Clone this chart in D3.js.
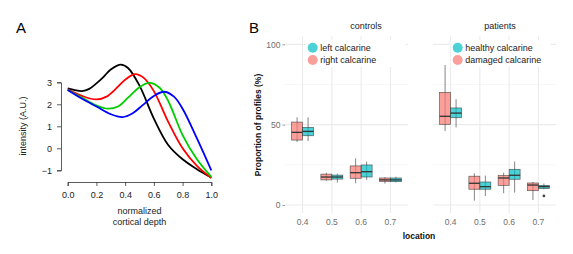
<!DOCTYPE html>
<html lang="en">
<head>
<meta charset="UTF-8">
<title>Cortical depth profiles</title>
<script src="https://d3js.org/d3.v7.min.js"></script>
<style>
  body { margin: 0; background: #fff; }
  text { font-family: "Liberation Sans", Arial, sans-serif; }
</style>
</head>
<body>
<svg id="fig" width="573" height="254"></svg>
<script>
// ---- panel A data: intensity profiles (x = normalized depth) ----
const depthTicks = [0, 0.2, 0.4, 0.6, 0.8, 1.0];
const intensityTicks = [-1, 0, 1, 2, 3];
const blackCurve = [[0,2.72],[0.05,2.64],[0.1,2.6],[0.15,2.7],[0.2,2.95],[0.25,3.25],[0.3,3.58],[0.37,3.8],[0.42,3.65],[0.5,2.85],[0.6,1.35],[0.7,0.15],[0.8,-0.5],[0.9,-0.95],[1.0,-1.33]];
const redCurve = [[0,2.68],[0.1,2.38],[0.2,2.22],[0.27,2.35],[0.35,2.8],[0.4,3.12],[0.47,3.37],[0.53,3.2],[0.6,2.6],[0.7,1.2],[0.8,0.0],[0.9,-0.8],[1.0,-1.35]];
const greenCurve = [[0,2.65],[0.1,2.3],[0.2,1.95],[0.28,1.8],[0.35,1.9],[0.42,2.3],[0.5,2.78],[0.57,2.97],[0.64,2.75],[0.7,2.15],[0.8,0.6],[0.9,-0.5],[1.0,-1.3]];
const blueCurve = [[0,2.65],[0.1,2.25],[0.2,1.9],[0.3,1.55],[0.38,1.42],[0.45,1.58],[0.52,1.95],[0.6,2.38],[0.67,2.57],[0.74,2.35],[0.8,1.8],[0.9,0.45],[1.0,-1.0]];
const curveColors = ["#000000", "#FF0000", "#00CD00", "#0000FF"];

// ---- panel B data: boxplot stats [lower whisker, q1, median, q3, upper whisker] ----
const locations = ["0.4", "0.5", "0.6", "0.7"];
const propTicks = [0, 50, 100];
const controlsRight = [[39.2,40.4,45.2,51.6,54.6],[15.1,15.6,17.4,19.2,20.1],[13.5,16.6,20.1,24.3,29],[13.3,14.7,15.6,16.8,17.4]];
const controlsLeft  = [[39.8,43.1,45.8,48.3,54.6],[13.9,16.1,17.4,18.6,19.5],[15.6,17.4,20.7,24.9,27],[14.1,14.5,15.6,16.8,17.6]];
const patientsDamaged = [[46,50.2,55.2,70.1,87.1],[2.7,9.8,13.5,17.9,19.7],[7.3,12.2,16.8,18.3,20.1],[3.1,8.9,12.4,13.7,14.3]];
const patientsHealthy = [[48.3,54.3,57.2,60.4,65.8],[5.6,9.8,11.4,14.3,18.3],[7.7,16,18.5,22.2,27],[9.8,10.2,11.4,12.2,13.3]];
const patientsHealthyOutliers = [[3, 5.6]]; // [location index, value]

const pink = "#F8766D", teal = "#00BFC4";

const svg = d3.select("#fig");

// ================= Panel A =================
const xA = d3.scaleLinear().domain([0, 1]).range([67.7, 211.3]);
const yA = d3.scaleLinear().domain([-1, 3]).range([170.3, 82.3]);

svg.append("text").attr("x", 16).attr("y", 33).style("font-size", "15px").text("A");

const axA = svg.append("g").attr("transform", "translate(0,182)")
    .call(d3.axisBottom(xA).tickValues(depthTicks).tickFormat(d3.format(".1f")).tickSizeOuter(0).tickSize(4).tickPadding(6));
const ayA = svg.append("g").attr("transform", "translate(61,0)")
    .call(d3.axisLeft(yA).tickValues(intensityTicks).tickFormat(d => d < 0 ? "\u2212" + Math.abs(d) : d).tickSizeOuter(0).tickSize(4).tickPadding(5));
[axA, ayA].forEach(g => {
  g.selectAll("path, line").attr("stroke", "#333").attr("stroke-width", 0.8);
  g.selectAll("text").attr("fill", "#222").style("font-size", "9px").style("font-family", "Liberation Sans, Arial, sans-serif");
});

svg.append("text").attr("transform", "rotate(-90)").attr("x", -126).attr("y", 26)
    .attr("text-anchor", "middle").style("font-size", "9px").attr("fill", "#222").text("intensity (A.U.)");
svg.append("text").attr("x", 139.5).attr("y", 214).attr("text-anchor", "middle")
    .style("font-size", "9px").attr("fill", "#222").text("normalized");
svg.append("text").attr("x", 139.5).attr("y", 225).attr("text-anchor", "middle")
    .style("font-size", "9px").attr("fill", "#222").text("cortical depth");

const lineA = d3.line().x(d => xA(d[0])).y(d => yA(d[1])).curve(d3.curveCatmullRom.alpha(0.5));
[blackCurve, redCurve, greenCurve, blueCurve].forEach((c, i) => {
  svg.append("path").datum(c).attr("d", lineA).attr("fill", "none")
      .attr("stroke", curveColors[i]).attr("stroke-width", 1.8);
});

// ================= Panel B =================
svg.append("text").attr("x", 249).attr("y", 33).style("font-size", "15px").text("B");

const yB = d3.scaleLinear().domain([-5, 105]).range([213, 36.3]);

const panels = [
  { title: "controls", titleX: 366, range: [285, 408], groups: [controlsRight, controlsLeft],
    legend: ["left calcarine", "right calcarine"], legendX: 312.7, axis: true, outliers: [] },
  { title: "patients", titleX: 500, range: [433, 556], groups: [patientsDamaged, patientsHealthy],
    legend: ["healthy calcarine", "damaged calcarine"], legendX: 457.7, axis: false, outliers: patientsHealthyOutliers }
];

panels.forEach(p => {
  const x = d3.scaleBand().domain(locations).range(p.range).paddingInner(0).paddingOuter(0.1);
  const step = x.step();
  const g = svg.append("g");

  // grid
  [25, 75].forEach(v => g.append("line").attr("x1", p.range[0]).attr("x2", p.range[1])
      .attr("y1", yB(v)).attr("y2", yB(v)).attr("stroke", "#F2F2F2").attr("stroke-width", 0.6));
  propTicks.forEach(v => g.append("line").attr("x1", p.range[0]).attr("x2", p.range[1])
      .attr("y1", yB(v)).attr("y2", yB(v)).attr("stroke", "#EBEBEB").attr("stroke-width", 1.1));
  locations.forEach(l => g.append("line").attr("x1", x(l) + step / 2).attr("x2", x(l) + step / 2)
      .attr("y1", yB(-5)).attr("y2", yB(105)).attr("stroke", "#EBEBEB").attr("stroke-width", 1.1));

  // x axis labels
  const ax = svg.append("g").attr("transform", "translate(0,213)")
      .call(d3.axisBottom(x).tickSize(0).tickPadding(6));
  ax.select(".domain").remove();
  ax.selectAll("text").attr("fill", "#6E6E6E").style("font-size", "8.5px").style("font-family", "Liberation Sans, Arial, sans-serif");

  if (p.axis) {
    const ay = svg.append("g").attr("transform", `translate(${p.range[0]},0)`)
        .call(d3.axisLeft(yB).tickValues(propTicks).tickSize(2.5).tickPadding(2));
    ay.select(".domain").remove();
    ay.selectAll("line").attr("stroke", "#999");
    ay.selectAll("text").attr("fill", "#6E6E6E").style("font-size", "8.5px").style("font-family", "Liberation Sans, Arial, sans-serif");
  }

  svg.append("text").attr("x", p.titleX).attr("y", 29).attr("text-anchor", "middle")
      .style("font-size", "9px").attr("fill", "#222").text(p.title);

  // boxes: group 0 pink (left dodge), group 1 teal (right dodge)
  const bw = step * 0.75 / 2;
  p.groups.forEach((grp, gi) => {
    const col = gi === 0 ? pink : teal;
    grp.forEach((s, li) => {
      const cx = x(locations[li]) + step / 2 + (gi === 0 ? -bw / 2 : bw / 2);
      g.append("line").attr("x1", cx).attr("x2", cx).attr("y1", yB(s[0])).attr("y2", yB(s[4]))
          .attr("stroke", "#333").attr("stroke-width", 0.6);
      g.append("rect").attr("x", cx - bw / 2).attr("width", bw)
          .attr("y", yB(s[3])).attr("height", yB(s[1]) - yB(s[3]))
          .attr("fill", col).attr("fill-opacity", 0.7)
          .attr("stroke", "#333").attr("stroke-opacity", 0.75).attr("stroke-width", 0.7);
      g.append("line").attr("x1", cx - bw / 2).attr("x2", cx + bw / 2)
          .attr("y1", yB(s[2])).attr("y2", yB(s[2])).attr("stroke", "#333").attr("stroke-width", 1.3);
    });
  });
  p.outliers.forEach(o => {
    const cx = x(locations[o[0]]) + step / 2 + bw / 2;
    g.append("circle").attr("cx", cx).attr("cy", yB(o[1])).attr("r", 1.4).attr("fill", "#444");
  });

  // legend (white key background covers grid)
  const lg = svg.append("g");
  lg.append("rect").attr("x", p.legendX - 7).attr("y", 40).attr("width", 100).attr("height", 27).attr("fill", "#fff");
  p.legend.forEach((t, i) => {
    const col = i === 0 ? teal : pink;
    lg.append("circle").attr("cx", p.legendX).attr("cy", 47.7 + i * 12.3).attr("r", 5)
        .attr("fill", col).attr("fill-opacity", 0.7);
    lg.append("text").attr("x", p.legendX + 7.5).attr("y", 51 + i * 12.3)
        .style("font-size", "9px").attr("fill", "#222").text(t);
  });
});

svg.append("text").attr("transform", "rotate(-90)").attr("x", -125).attr("y", 261)
    .attr("text-anchor", "middle").style("font-size", "8.5px").style("font-weight", "bold")
    .attr("fill", "#111").text("Proportion of profiles (%)");
svg.append("text").attr("x", 419).attr("y", 238.5).attr("text-anchor", "middle")
    .style("font-size", "8.5px").style("font-weight", "bold").attr("fill", "#111").text("location");
</script>
</body>
</html>
